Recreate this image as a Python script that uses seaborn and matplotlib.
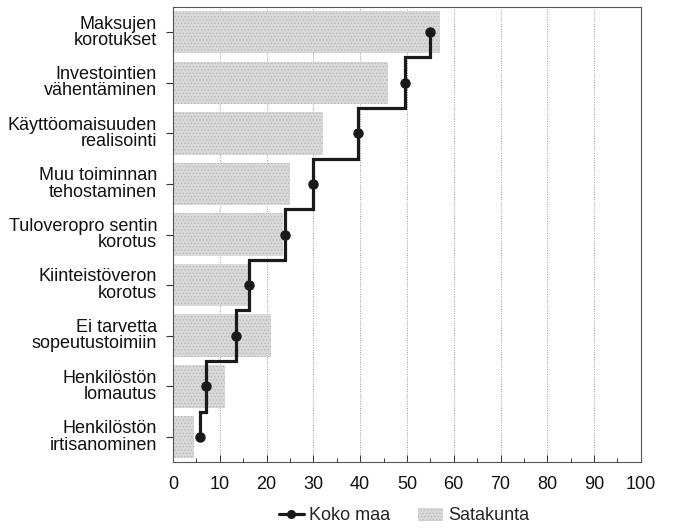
import numpy as np
import matplotlib
matplotlib.use("Agg")
import matplotlib.pyplot as plt
import matplotlib.transforms as mtransforms
import seaborn as sns
from matplotlib.lines import Line2D
from matplotlib.patches import Patch

# categories, top to bottom
labels = ["Maksujen\nkorotukset", "Investointien\nvähentäminen", "Käyttöomaisuuden\nrealisointi",
          "Muu toiminnan\ntehostaminen", "Tuloveropro sentin\nkorotus", "Kiinteistöveron\nkorotus",
          "Ei tarvetta\nsopeutustoimiin", "Henkilöstön\nlomautus", "Henkilöstön\nirtisanominen"]
# Satakunta (bars), %
satakunta = [57, 46, 32, 25, 23.5, 16, 21, 11, 4.5]
# Koko maa (step line), %
koko_maa = [55, 49.5, 39.5, 30, 24, 16.3, 13.5, 7, 5.8]
xticks = list(range(0, 101, 10))

sns.set_style("white")
plt.rcParams['font.family'] = ['Liberation Sans', 'DejaVu Sans']
plt.rcParams['hatch.linewidth'] = 0.4

fig = plt.figure(figsize=(6.76, 5.30), dpi=100)
ax = fig.add_axes([0.256, 0.128, 0.692, 0.859])

# grid behind the bars
ax.set_axisbelow(True)
ax.grid(axis='x', linestyle=(0, (1, 1.5)), color='#999999', linewidth=0.7)

sns.barplot(x=satakunta, y=labels, orient='h', color='#d8d8d8', width=0.84,
            edgecolor='#b0b0b0', linewidth=0, hatch='.....', ax=ax, zorder=2)

# step line: vertical at each value, horizontal at the category boundaries
n = len(koko_maa)
pos = np.arange(n)
xs = np.repeat(koko_maa, 2)
ys = np.column_stack([pos - 0.5, pos + 0.5]).ravel()
ys[0] = pos[0]
ys[-1] = pos[-1]
ax.plot(xs, ys, color='#1a1a1a', linewidth=2.3, zorder=3, solid_joinstyle='miter')
ax.plot(koko_maa, pos, 'o', color='#1a1a1a', markersize=6.5, zorder=4)

ax.set_xlim(0, 100)
ax.set_ylim(n - 0.5, -0.5)
ax.set_xticks(xticks)
ax.set_xticks(np.arange(5, 100, 10), minor=True)
ax.tick_params(axis='x', which='major', direction='in', length=5, width=0.7, bottom=True, top=False,
               labelsize=13, pad=10, colors='#333333', labelcolor='#111111')
ax.tick_params(axis='x', which='minor', direction='in', length=3, width=0.7, bottom=True, colors='#333333')
ax.tick_params(axis='y', direction='inout', length=10, width=0.8, left=True, colors='#333333')
ax.set_yticks(pos, labels=[''] * n)

# category labels, right aligned line by line
trans = mtransforms.blended_transform_factory(ax.transAxes, ax.transData)
trans = trans + mtransforms.ScaledTranslation(-16 / 100, 0, fig.dpi_scale_trans)
for p, lab in zip(pos, labels):
    ax.text(0, p, lab, transform=trans, ha='right', va='center', ma='right',
            fontsize=13, linespacing=0.95, color='#111111')

ax.set_xlabel('')
ax.set_ylabel('')
for s in ax.spines.values():
    s.set_visible(True)
    s.set_color('#555555')
    s.set_linewidth(0.8)

handles = [Line2D([0], [0], color='#1a1a1a', linewidth=2.3, marker='o', markersize=5.5),
           Patch(facecolor='#d8d8d8', edgecolor='#b0b0b0', linewidth=0, hatch='.....')]
fig.legend(handles, ['Koko maa', 'Satakunta'], loc='center', bbox_to_anchor=(404 / 676, 1 - 516 / 530),
           ncol=2, frameon=False, fontsize=13, handlelength=1.4, handletextpad=0.3,
           columnspacing=1.5)

fig.savefig('out.png', dpi=100)
